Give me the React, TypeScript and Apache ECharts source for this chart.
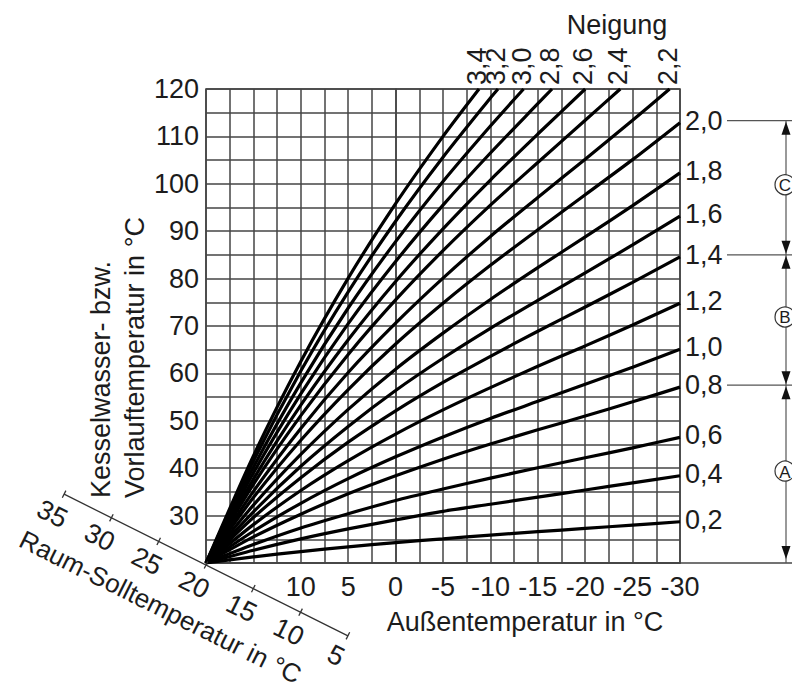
import React, { useEffect, useRef } from "react";
import * as echarts from "echarts";

// Außentemperatur (°C) sample points for the curves
const outsideTemps = [20, 15, 10, 5, 0, -5, -10, -15, -20, -25, -30];

// Neigung labels, one per curve
const neigungLabels = [
  "0,2", "0,4", "0,6", "0,8", "1,0", "1,2", "1,4", "1,6", "1,8", "2,0",
  "2,2", "2,4", "2,6", "2,8", "3,0", "3,2", "3,4",
];

// Vorlauftemperatur (°C) read at outsideTemps (interior points of each curve)
const curveValues: number[][] = [
  [20, 21.3, 22.4, 23.4, 24.3, 25.1, 25.9, 26.6, 27.3, 28.0],
  [20, 22.7, 25.1, 27.2, 29.1, 30.9, 32.4, 33.9, 35.4, 36.9],
  [20, 23.9, 27.4, 30.4, 33.2, 35.6, 37.9, 40.1, 42.2, 44.3],
  [20, 25.5, 30.3, 34.6, 38.4, 41.9, 45.1, 48.1, 51.0, 54.0],
  [20, 26.7, 32.6, 37.8, 42.4, 46.6, 50.5, 54.1, 57.7, 61.3],
  [20, 28.1, 35.3, 41.6, 47.2, 52.3, 57.0, 61.5, 65.8, 70.2],
  [20, 29.6, 38.0, 45.5, 52.1, 58.1, 63.6, 68.9, 74.0, 79.2],
  [20, 30.8, 40.4, 48.8, 56.4, 63.2, 69.5, 75.4, 81.2, 87.1],
  [20, 32.2, 42.9, 52.4, 60.9, 68.5, 75.6, 82.3, 88.8, 95.4],
  [20, 33.8, 45.9, 56.6, 66.2, 74.8, 82.8, 90.3, 97.7, 105.1],
  [20, 35.1, 48.4, 60.2, 70.6, 80.1, 88.9, 97.1, 105.2, 113.4],
  [20, 36.6, 51.1, 64.0, 75.5, 85.9, 95.5, 104.5, 113.4],
  [20, 37.7, 53.3, 67.1, 79.4, 90.5, 100.8, 110.5],
  [20, 39.0, 55.7, 70.5, 83.6, 95.5, 106.5, 116.9],
  [20, 40.2, 58.0, 73.8, 87.8, 100.5, 112.2],
  [20, 41.5, 60.5, 77.2, 92.1, 105.6, 118.1],
  [20, 42.6, 62.5, 80.1, 95.8, 110.0],
];

// End point of each curve (right edge or top edge)
const curveEndTemps = [
  -30, -30, -30, -30, -30, -30, -30, -30, -30, -30,
  -28.9, -23.7, -20.0, -16.5, -13.5, -10.8, -8.8,
];
const curveEndValues = [
  28.7, 38.4, 46.5, 57.1, 65.1, 74.8, 84.6, 93.2, 102.3, 112.9,
  120, 120, 120, 120, 120, 120, 120,
];

// Tick labels
const xTickLabels = [10, 5, 0, -5, -10, -15, -20, -25, -30];
const yTickLabels = [30, 40, 50, 60, 70, 80, 90, 100, 110, 120];
const raumTicks = [35, 30, 25, 20, 15, 10, 5];

// Zones on the right: letter, lower bound curve index (-1 = bottom), upper bound curve index
const zoneLetters = ["A", "B", "C"];
const zoneLower = [-1, 3, 6];
const zoneUpper = [3, 6, 9];

const FONT = '"Liberation Sans", Arial, Helvetica, sans-serif';
const FS = 27;
const TXT = "#1c1c1c";
const GRIDC = "#444";

export default function App() {
  const ref = useRef<HTMLDivElement>(null);

  useEffect(() => {
    if (!ref.current) return;
    const chart = echarts.init(ref.current, undefined, { renderer: "svg" });

    const series = curveValues.map((vals, i) => {
      const data: number[][] = vals.map((v, j) => [outsideTemps[j], v]);
      data.push([curveEndTemps[i], curveEndValues[i]]);
      return {
        type: "line",
        name: neigungLabels[i],
        data,
        showSymbol: false,
        smooth: 0.25,
        silent: true,
        lineStyle: { color: "#000", width: 3.2 },
        z: 5,
      };
    });

    chart.setOption({
      animation: false,
      backgroundColor: "#fff",
      grid: {
        left: 206,
        top: 89,
        width: 474,
        height: 474,
        show: true,
        borderColor: GRIDC,
        borderWidth: 1.6,
        backgroundColor: "transparent",
      },
      xAxis: {
        type: "value",
        min: -30,
        max: 20,
        interval: 2.5,
        inverse: true,
        axisLine: { show: true, lineStyle: { color: GRIDC, width: 1.6 } },
        axisTick: { show: false },
        splitLine: { show: true, lineStyle: { color: GRIDC, width: 1.5 } },
        axisLabel: {
          interval: 0,
          margin: 10,
          fontSize: FS,
          fontFamily: FONT,
          color: TXT,
          formatter: (v: number) => (xTickLabels.indexOf(v) >= 0 ? String(v) : ""),
        },
      },
      yAxis: {
        type: "value",
        min: 20,
        max: 120,
        interval: 5,
        axisLine: { show: true, lineStyle: { color: GRIDC, width: 1.6 } },
        axisTick: { show: false },
        splitLine: { show: true, lineStyle: { color: GRIDC, width: 1.5 } },
        axisLabel: {
          interval: 0,
          margin: 7,
          fontSize: FS,
          fontFamily: FONT,
          color: TXT,
          formatter: (v: number) => (yTickLabels.indexOf(v) >= 0 ? String(v) : ""),
        },
      },
      series,
    });

    const P = (x: number, y: number) =>
      chart.convertToPixel({ xAxisIndex: 0, yAxisIndex: 0 }, [x, y]) as number[];

    const g: any[] = [];
    const txt = (x: number, y: number, text: string, extra: any = {}, style: any = {}) =>
      g.push({
        type: "text",
        x,
        y,
        silent: true,
        z: 20,
        ...extra,
        style: {
          text,
          fill: TXT,
          fontSize: FS,
          fontFamily: FONT,
          align: "center",
          verticalAlign: "middle",
          ...style,
        },
      });
    const line = (x1: number, y1: number, x2: number, y2: number, w = 1.2, c = "#555") =>
      g.push({
        type: "line",
        silent: true,
        z: 15,
        shape: { x1, y1, x2, y2 },
        style: { stroke: c, lineWidth: w },
      });

    const bottomLeft = P(20, 20);
    const rightX = P(-30, 20)[0];
    const bottomY = bottomLeft[1];

    // Curve end labels
    curveValues.forEach((_, i) => {
      const p = P(curveEndTemps[i], curveEndValues[i]);
      if (curveEndValues[i] >= 120) {
        txt(p[0] - 2, p[1] - 4, neigungLabels[i], { rotation: Math.PI / 2 }, { align: "left" });
      } else {
        txt(p[0] + 5, p[1] - 2, neigungLabels[i], {}, { align: "left" });
      }
    });

    // Neigung title
    txt(617, 25, "Neigung");
    // Außentemperatur title
    txt(525, 622, "Außentemperatur in °C");
    // Y titles
    txt(101, 498, "Kesselwasser- bzw.", { rotation: Math.PI / 2 }, { align: "left" });
    txt(135, 498, "Vorlauftemperatur in °C", { rotation: Math.PI / 2 }, { align: "left" });

    // Right zone annotations
    const zoneY = (idx: number) =>
      idx < 0 ? bottomY : P(-30, curveEndValues[idx])[1] - 2;
    const ax = 786;
    line(rightX, bottomY, 792, bottomY, 1.6, GRIDC);
    [3, 6, 9].forEach((idx) => line(rightX + 47, zoneY(idx), 792, zoneY(idx), 1.2, "#555"));
    line(ax, zoneY(9), ax, bottomY, 1.2, "#555");
    const arrow = (y: number, up: boolean) => {
      const d = up ? 13 : -13;
      g.push({
        type: "polygon",
        silent: true,
        z: 16,
        shape: { points: [[ax, y], [ax - 4.5, y + d], [ax + 4.5, y + d]] },
        style: { fill: "#111" },
      });
    };
    zoneLetters.forEach((L, k) => {
      const yLo = zoneY(zoneLower[k]);
      const yHi = zoneY(zoneUpper[k]);
      arrow(yHi + 1, true);
      arrow(yLo - (zoneLower[k] < 0 ? 4 : 1), false);
      const cy = (yLo + yHi) / 2 - 3;
      g.push({
        type: "circle",
        silent: true,
        z: 17,
        shape: { cx: ax - 1, cy, r: 10 },
        style: { fill: "#fff", stroke: "#333", lineWidth: 1.2 },
      });
      txt(ax - 1, cy + 1, L, { z: 18 }, { fontSize: 17 });
    });

    // Raum-Solltemperatur scale
    const ang = Math.atan2(23.6, 47.3);
    const dir = [Math.cos(ang), Math.sin(ang)];
    const perp = [-Math.sin(ang), Math.cos(ang)];
    const step = Math.hypot(47.3, 23.6);
    const O = [bottomLeft[0], bottomLeft[1] + 2];
    const rp = (r: number) => {
      const s = ((20 - r) / 5) * step;
      return [O[0] + dir[0] * s, O[1] + dir[1] * s];
    };
    const a = rp(raumTicks[0]);
    const b = rp(raumTicks[raumTicks.length - 1]);
    line(a[0], a[1], b[0], b[1], 1.3, "#333");
    raumTicks.forEach((r) => {
      const p = rp(r);
      line(p[0] - perp[0] * 4, p[1] - perp[1] * 4, p[0] + perp[0] * 4, p[1] + perp[1] * 4, 1.3, "#333");
      txt(p[0] + perp[0] * 22 - 2, p[1] + perp[1] * 22, String(r), { rotation: -ang });
    });
    const tc = [O[0] + dir[0] * -22 + perp[0] * 58, O[1] + dir[1] * -22 + perp[1] * 58];
    txt(tc[0], tc[1], "Raum-Solltemperatur in °C", { rotation: -ang }, { fontSize: 26 });

    chart.setOption({ graphic: g });

    return () => chart.dispose();
  }, []);

  return (
    <div
      ref={ref}
      style={{ position: "fixed", left: 0, top: 0, width: 792, height: 693, background: "#fff" }}
    />
  );
}
